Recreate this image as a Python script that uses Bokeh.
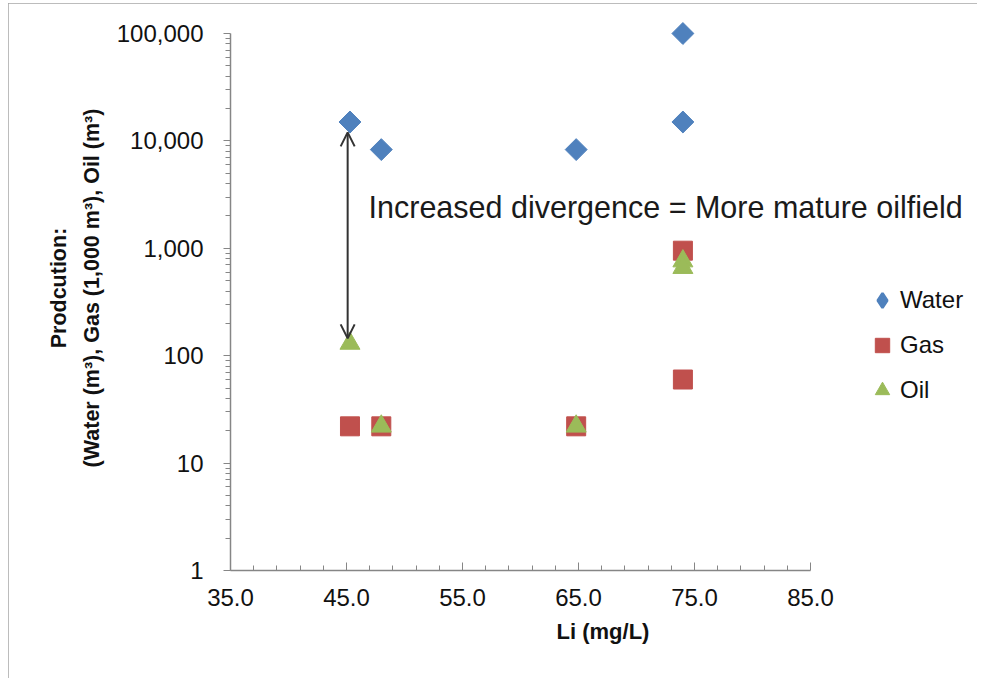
from bokeh.plotting import figure
from bokeh.models import (Legend, LegendItem, FixedTicker, NumeralTickFormatter,
                          PrintfTickFormatter, Range1d, Arrow, OpenHead)
from bokeh.core.properties import value
from bokeh.embed import file_html
from bokeh.resources import INLINE
import numpy as np

# ---- data ----
water_li = [45.3, 48.0, 64.8, 74.0, 74.0]
water = [15000, 8300, 8300, 100000, 15000]
gas_li = [45.3, 48.0, 64.8, 74.0, 74.0]
gas = [22, 22, 22, 950, 60]
oil_li = [45.3, 48.0, 64.8, 74.0, 74.0]
oil = [130, 22, 22, 760, 660]

x_ticks = [35, 45, 55, 65, 75, 85]
x_minor = [37, 39, 41, 43, 47, 49, 51, 53, 57, 59, 61, 63, 67, 69, 71, 73, 77, 79, 81, 83]
y_ticks = [1, 10, 100, 1000, 10000, 100000]
y_minor = [m * d for d in [1, 10, 100, 1000, 10000] for m in range(2, 10)]

arrow_li = [45.1, 45.1]
arrow_prod = [145, 12000]
note_li = [46.9]
note_prod = [2400]
note_text = ["Increased divergence = More mature oilfield"]

FONT = "Liberation Sans"
AX = "#868686"
BLUE, RED, GREEN = "#4F81BD", "#C0504D", "#9BBB59"

# ---- layout (pixels) ----
W, H = 969, 675
F_LEFT, F_RIGHT, F_TOP, F_BOTTOM = 222, 967, 2, 567
AXIS_PX = 580.0          # pixels spanned by 35..85
DECADE_PX = 107.4        # pixels per decade
x_end = 35 + (F_RIGHT - F_LEFT) * 50.0 / AXIS_PX
y_end = 10 ** ((F_BOTTOM - F_TOP) / DECADE_PX)

p = figure(width=W, height=H, y_axis_type="log", output_backend="svg", toolbar_location=None,
           x_range=Range1d(35, x_end), y_range=Range1d(1, y_end),
           min_border_left=F_LEFT, min_border_right=W - F_RIGHT,
           min_border_top=F_TOP, min_border_bottom=H - F_BOTTOM)
p.outline_line_color = None
p.background_fill_color = "white"
p.border_fill_color = "white"
p.xgrid.visible = False
p.ygrid.visible = False
p.styles = {"margin-left": "8px", "margin-top": "3px",
            "outline": "1px solid #a6a6a6", "outline-offset": "-1px"}

# axes
p.xaxis.ticker = FixedTicker(ticks=x_ticks, minor_ticks=x_minor)
p.yaxis.ticker = FixedTicker(ticks=y_ticks, minor_ticks=y_minor)
p.xaxis.bounds = (35, 85)
p.yaxis.bounds = (1, 100000)
p.xaxis.formatter = PrintfTickFormatter(format="%.1f")
p.yaxis.formatter = NumeralTickFormatter(format="0,0")
for ax in (p.xaxis, p.yaxis):
    ax.axis_line_color = AX
    ax.axis_line_width = 1.5
    ax.major_tick_line_color = AX
    ax.minor_tick_line_color = AX
    ax.major_label_text_font = FONT
    ax.major_label_text_font_size = "24px"
    ax.major_label_text_color = "#111111"
    ax.axis_label_text_font = FONT
    ax.axis_label_text_font_style = "bold"
    ax.axis_label_text_color = "#111111"
p.xaxis.major_tick_in = 8
p.xaxis.major_tick_out = 0
p.xaxis.minor_tick_in = 5
p.xaxis.minor_tick_out = 0
p.yaxis.major_tick_in = 0
p.yaxis.major_tick_out = 7
p.yaxis.minor_tick_in = 0
p.yaxis.minor_tick_out = 5
p.xaxis.major_label_standoff = 18
p.yaxis.major_label_standoff = 20
p.xaxis.axis_label = "Li (mg/L)"
p.xaxis.axis_label_text_font_size = "22px"
p.xaxis.axis_label_standoff = 10
p.yaxis.axis_label = "Prodcution:\n(Water (m\u00b3), Gas (1,000 m\u00b3), Oil (m\u00b3)"
p.yaxis.axis_label_text_font_size = "21.5px"
p.yaxis.axis_label_text_line_height = 1.35
p.yaxis.axis_label_standoff = 10

# series
rw = p.scatter(water_li, water, marker="square", angle=np.pi / 4, size=15.5,
               fill_color=BLUE, line_color=BLUE)
rg = p.scatter(gas_li, gas, marker="square", size=19, fill_color=RED, line_color=RED)
ro = p.scatter(oil_li, oil, marker="triangle", size=20, fill_color=GREEN, line_color=GREEN)
# legend key for Water (legend glyphs are never rotated): a diamond marker hidden
# underneath the first water point
rw_key = p.scatter(water_li[:1], water[:1], marker="diamond", size=10,
                   fill_color=BLUE, line_color=BLUE, line_width=2.5)

# arrow and note
p.add_layout(Arrow(x_start=arrow_li[0], y_start=arrow_prod[0], x_end=arrow_li[1], y_end=arrow_prod[1],
                   start=OpenHead(size=14, line_width=2, line_color="#333333"),
                   end=OpenHead(size=14, line_width=2, line_color="#333333"),
                   line_width=2, line_color="#333333"))
p.text(x=note_li, y=note_prod, text=note_text, text_font=value(FONT), text_font_size="30.5px",
       text_baseline="middle", text_align="left", text_color="#1a1a1a")

legend = Legend(items=[LegendItem(label="Water", renderers=[rw_key]),
                       LegendItem(label="Gas", renderers=[rg]),
                       LegendItem(label="Oil", renderers=[ro])],
                location=(634, 162), orientation="vertical",
                label_text_font=FONT, label_text_font_size="24px", label_text_color="#111111",
                glyph_width=36, glyph_height=36, label_standoff=-3, spacing=9,
                padding=0, margin=0, border_line_color=None, background_fill_alpha=0)
p.add_layout(legend, "center")

open("out.html", "w").write(file_html(p, INLINE))
